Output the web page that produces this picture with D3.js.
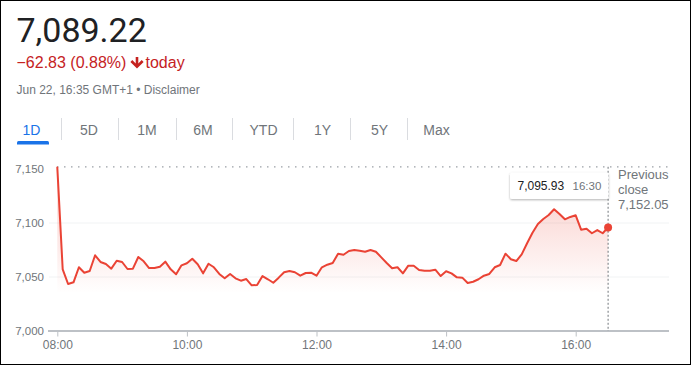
<!DOCTYPE html>
<html>
<head>
<meta charset="utf-8">
<script src="https://cdn.jsdelivr.net/npm/d3@7/dist/d3.min.js"></script>
<style>
  html, body { margin: 0; padding: 0; background: #fff; }
  svg { display: block; }
  text { font-family: Arial, "Liberation Sans", sans-serif; }
</style>
</head>
<body>
<svg id="chart" width="691" height="365"></svg>
<script>
// ---------- data ----------
const price = "7,089.22";
const changeText = "\u221262.83 (0.88%)";
const periodText = "today";
const dateLine = "Jun 22, 16:35 GMT+1 \u2022 Disclaimer";
const tabs = ["1D", "5D", "1M", "6M", "YTD", "1Y", "5Y", "Max"];
const prevClose = 7152.05;
const startTime = "08:00";
const stepMinutes = 5;
const values = [
  7151.5, 7057.1, 7043.5, 7045.1, 7059.0, 7054.0, 7055.6, 7070.1, 7063.9, 7062.0,
  7057.7, 7065.1, 7063.9, 7057.4, 7057.7, 7068.5, 7064.5, 7058.3, 7058.3, 7059.5,
  7064.2, 7057.1, 7052.5, 7060.8, 7062.7, 7066.9, 7061.8, 7053.4, 7062.3, 7059.0,
  7052.8, 7048.8, 7052.8, 7048.8, 7046.6, 7048.1, 7042.3, 7042.6, 7050.9, 7047.9,
  7044.7, 7049.4, 7054.4, 7055.6, 7054.4, 7051.2, 7053.7, 7054.0, 7051.2, 7059.0,
  7061.4, 7063.0, 7071.6, 7070.6, 7074.1, 7075.0, 7074.4, 7073.4, 7075.0, 7073.4,
  7068.2, 7063.0, 7058.1, 7059.0, 7053.4, 7060.5, 7060.5, 7056.5, 7055.8, 7055.8,
  7056.8, 7050.9, 7055.3, 7053.4, 7049.7, 7049.4, 7044.4, 7045.6, 7047.9, 7051.2,
  7052.8, 7059.0, 7061.1, 7071.6, 7066.4, 7064.8, 7071.0, 7081.2, 7091.0, 7099.1,
  7103.7, 7107.4, 7112.7, 7108.3, 7103.4, 7105.6, 7107.1, 7093.8, 7094.7, 7090.5,
  7093.5, 7090.5, 7095.93
];
const xTickLabels = ["08:00", "10:00", "12:00", "14:00", "16:00"];
const yTickValues = [7000, 7050, 7100, 7150];
const tooltipValue = "7,095.93";
const tooltipTime = "16:30";
const prevCloseLabel = ["Previous", "close", "7,152.05"];

// ---------- setup ----------
const parse = d3.timeParse("%H:%M");
const t0 = parse(startTime);
const data = values.map((v, i) => ({ t: d3.timeMinute.offset(t0, i * stepMinutes), v }));

const svg = d3.select("#chart");
const RED = "#ea4335";
const GRAY = "#70757a";

// outer border
svg.append("rect").attr("x", 0.5).attr("y", 0.5).attr("width", 690).attr("height", 364)
  .attr("fill", "#fff").attr("stroke", "#000").attr("stroke-width", 1);

// header
svg.append("text").attr("x", 16.5).attr("y", 42).text(price)
  .style("font-family", "Roboto, Arial, sans-serif").style("font-size", "34px").attr("fill", "#202124");

svg.append("text").attr("x", 16.5).attr("y", 68).text(changeText)
  .style("font-size", "16px").attr("fill", "#c5221f");
// down arrow icon
const ax = 137, ay = 57;
svg.append("path")
  .attr("d", `M${ax - 1.3},${ay} h2.6 v6.5 l3.4,-3.4 l1.9,1.9 l-6.6,6.6 l-6.6,-6.6 l1.9,-1.9 l3.4,3.4 z`)
  .attr("fill", "#c5221f");
svg.append("text").attr("x", 145.5).attr("y", 68).text(periodText)
  .style("font-size", "16px").attr("fill", "#c5221f");

svg.append("text").attr("x", 16.5).attr("y", 94).text(dateLine)
  .style("font-size", "12px").attr("fill", GRAY);

// tabs
const tabCenters = [31.5, 89, 147, 203, 263.5, 322.5, 379.5, 436.5];
const tabSeps = [61.5, 118.5, 176.5, 232.5, 293.5, 350.5, 407.5];
svg.append("g").selectAll("text").data(tabs).join("text")
  .attr("x", (d, i) => tabCenters[i]).attr("y", 135).attr("text-anchor", "middle")
  .style("font-size", "14px")
  .attr("fill", (d, i) => i === 0 ? "#1a73e8" : GRAY)
  .text(d => d);
svg.append("g").selectAll("line").data(tabSeps).join("line")
  .attr("x1", d => d).attr("x2", d => d).attr("y1", 118).attr("y2", 140)
  .attr("stroke", "#dadce0").attr("stroke-width", 1);
svg.append("path")
  .attr("d", "M17,144.5 v-2 a1.5,1.5 0 0 1 1.5,-1.5 h29 a1.5,1.5 0 0 1 1.5,1.5 v2 z")
  .attr("fill", "#1a73e8");

// ---------- scales ----------
const x = d3.scaleTime().domain([parse("08:00"), parse("16:00")]).range([57.3, 575.7]);
const y = d3.scaleLinear().domain([7000, 7150]).range([331, 169]);
const xRight = 669;

// gradient
const defs = svg.append("defs");
const grad = defs.append("linearGradient").attr("id", "fillGrad")
  .attr("gradientUnits", "userSpaceOnUse").attr("x1", 0).attr("x2", 0)
  .attr("y1", y(7115)).attr("y2", y(7035));
grad.append("stop").attr("offset", 0).attr("stop-color", RED).attr("stop-opacity", 0.2);
grad.append("stop").attr("offset", 1).attr("stop-color", RED).attr("stop-opacity", 0);
const shadow = defs.append("filter").attr("id", "shadow").attr("x", "-20%").attr("y", "-30%")
  .attr("width", "140%").attr("height", "180%");
shadow.append("feDropShadow").attr("dx", 0).attr("dy", 1).attr("stdDeviation", 1.2)
  .attr("flood-color", "#000").attr("flood-opacity", 0.3);

// gridlines
svg.append("g").selectAll("line").data(yTickValues.filter(d => d !== 7000 && d !== 7150)).join("line")
  .attr("x1", 49).attr("x2", xRight).attr("y1", d => y(d)).attr("y2", d => y(d))
  .attr("stroke", "#f1f3f4").attr("stroke-width", 1);

// previous close dotted line
svg.append("line").attr("x1", 57).attr("x2", xRight)
  .attr("y1", y(prevClose)).attr("y2", y(prevClose))
  .attr("stroke", "#9aa0a6").attr("stroke-width", 1.3).attr("stroke-dasharray", "1.5,5.5");

// area
const area = d3.area().x(d => x(d.t)).y0(y(7000)).y1(d => y(d.v)).curve(d3.curveLinear);
svg.append("path").datum(data).attr("d", area).attr("fill", "url(#fillGrad)");

// x axis
const xAxis = d3.axisBottom(x)
  .tickValues(xTickLabels.map(parse))
  .tickFormat(d3.timeFormat("%H:%M"))
  .tickSize(5).tickPadding(4);
const gx = svg.append("g").attr("transform", `translate(0,${y(7000) + 0.5})`).call(xAxis);
gx.select(".domain").remove();
gx.selectAll(".tick line").attr("stroke", "#bdc1c6").attr("stroke-width", 1);
gx.selectAll(".tick text").attr("fill", GRAY).style("font-size", "12px")
  .style("font-family", "Arial, sans-serif");

// axis baseline
svg.append("line").attr("x1", 48).attr("x2", xRight).attr("y1", y(7000)).attr("y2", y(7000))
  .attr("stroke", "#bdc1c6").attr("stroke-width", 2);

// y axis
const yAxis = d3.axisLeft(y).tickValues(yTickValues).tickFormat(d3.format(",")).tickSize(0).tickPadding(0);
const gy = svg.append("g").attr("transform", "translate(44,0)").call(yAxis);
gy.select(".domain").remove();
gy.selectAll(".tick text").attr("fill", GRAY).style("font-size", "11.5px")
  .style("font-family", "Arial, sans-serif");

// vertical dashed marker at last point
const last = data[data.length - 1];
svg.append("line").attr("x1", x(last.t)).attr("x2", x(last.t))
  .attr("y1", y(prevClose)).attr("y2", y(7000))
  .attr("stroke", GRAY).attr("stroke-width", 1).attr("stroke-dasharray", "2,2");

// line
const line = d3.line().x(d => x(d.t)).y(d => y(d.v)).curve(d3.curveLinear);
svg.append("path").datum(data).attr("d", line)
  .attr("fill", "none").attr("stroke", RED).attr("stroke-width", 2)
  .attr("stroke-linejoin", "round").attr("stroke-linecap", "round");

svg.append("circle").attr("cx", x(last.t)).attr("cy", y(last.v)).attr("r", 4).attr("fill", RED);

// tooltip
const tipG = svg.append("g");
tipG.append("rect").attr("x", 510).attr("y", 172.5).attr("width", 98.5).attr("height", 26.5)
  .attr("rx", 2).attr("fill", "#fff").attr("filter", "url(#shadow)");
tipG.append("text").attr("x", 517.5).attr("y", 190).text(tooltipValue)
  .style("font-size", "12px").attr("fill", "#202124");
tipG.append("text").attr("x", 572.5).attr("y", 190).text(tooltipTime)
  .style("font-size", "11.5px").attr("fill", GRAY);

// previous close label
svg.append("g").selectAll("text").data(prevCloseLabel).join("text")
  .attr("x", 618).attr("y", (d, i) => 179 + i * 14.8)
  .style("font-size", "13px").attr("fill", GRAY).text(d => d);
</script>
</body>
</html>
